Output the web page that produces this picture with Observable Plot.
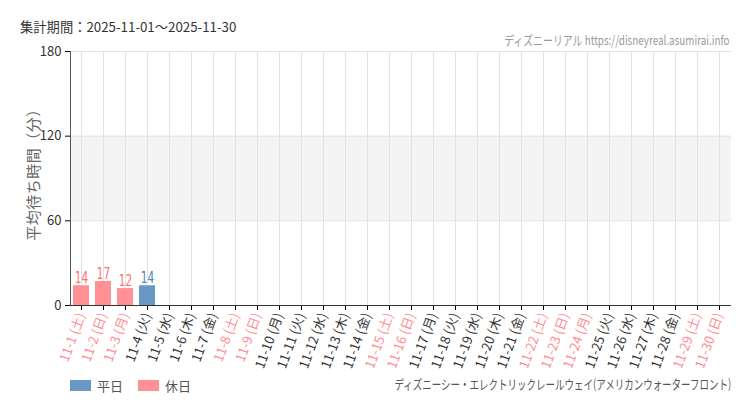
<!DOCTYPE html>
<html><head><meta charset="utf-8">
<script src="https://cdn.jsdelivr.net/npm/d3@7"></script>
<script src="https://cdn.jsdelivr.net/npm/@observablehq/plot@0.6"></script>
<style>
body{margin:0;background:#fff;font-family:"Noto Sans CJK JP","Noto Sans",sans-serif;}
#wrap{position:relative;width:750px;height:410px;overflow:hidden;}
#period{position:absolute;left:20px;top:17px;font-size:13.3px;color:#333;}
#site{position:absolute;right:20px;top:30px;font-size:13px;color:#999;white-space:nowrap;transform:scaleX(0.76);transform-origin:right center;}
#chart{position:absolute;left:0;top:45px;}
#chart svg{overflow:visible;}
#ylab{position:absolute;left:32px;top:171px;font-size:15px;letter-spacing:0.5px;color:#666;white-space:nowrap;transform:translate(-50%,-50%) rotate(-90deg);}
#legend{position:absolute;left:70px;top:376px;font-size:13px;color:#555;display:flex;align-items:center;}
.sw{display:inline-block;width:21px;height:11px;margin-right:6px;}
#caption{position:absolute;right:19px;top:374px;font-size:13px;color:#555;white-space:nowrap;transform:scaleX(0.73);transform-origin:right center;}
</style></head>
<body><div id="wrap">
<div id="period">集計期間：2025-11-01〜2025-11-30</div>
<div id="site">ディズニーリアル https://disneyreal.asumirai.info</div>
<div id="chart"></div>
<div id="ylab">平均待ち時間（分）</div>
<div id="legend"><span class="sw" style="background:#6a98c4"></span>平日<span style="width:15px"></span><span class="sw" style="background:#ff9095"></span>休日</div>
<div id="caption">ディズニーシー・エレクトリックレールウェイ(アメリカンウォーターフロント)</div>
</div>
<script>
const days = ["11-1","11-2","11-3","11-4","11-5","11-6","11-7","11-8","11-9","11-10","11-11","11-12","11-13","11-14","11-15","11-16","11-17","11-18","11-19","11-20","11-21","11-22","11-23","11-24","11-25","11-26","11-27","11-28","11-29","11-30"];
const weekdays = ["土","日","月","火","水","木","金","土","日","月","火","水","木","金","土","日","月","火","水","木","金","土","日","月","火","水","木","金","土","日"];
const holidayFlags = [1,1,1,0,0,0,0,1,1,0,0,0,0,0,1,1,0,0,0,0,0,1,1,1,0,0,0,0,1,1];
const waits = [14,17,12,14,null,null,null,null,null,null,null,null,null,null,null,null,null,null,null,null,null,null,null,null,null,null,null,null,null,null];
const yTicks = [0,60,120,180];

const C = {wdBar:"#6a98c4", hdBar:"#ff9095", wdLab:"#4f84ba", hdLab:"#ff6f76", wdTick:"#333", hdTick:"#ff8c92"};
const data = days.map((d,i)=>({day:d, wd:weekdays[i], hol:!!holidayFlags[i], v:waits[i]}));
const byDay = new Map(data.map(d=>[d.day,d]));
const bars = data.filter(d=>d.v!=null);

const chart = Plot.plot({
  width:750, height:320,
  marginLeft:70, marginRight:19, marginTop:6, marginBottom:60,
  style:{fontFamily:'"Noto Sans CJK JP","Noto Sans",sans-serif', background:"transparent", overflow:"visible"},
  x:{domain:days, paddingInner:0.27, paddingOuter:0, align:0.5},
  y:{domain:[0,180]},
  marks:[
    Plot.rectY([{a:60,b:120}], {y1:"a", y2:"b", fill:"#f4f4f4"}),
    Plot.gridX(days, {stroke:"#e3e3e3", strokeOpacity:1}),
    Plot.gridY([60,120,180], {stroke:"#e3e3e3", strokeOpacity:1}),
    Plot.barY(bars, {x:"day", y:"v", fill:d=>d.hol?C.hdBar:C.wdBar}),
    Plot.text(bars, {x:"day", y:"v", text:d=>String(d.v), dy:-8, fill:d=>d.hol?C.hdLab:C.wdLab,
      fontSize:16, fontFamily:'"DejaVu Sans",sans-serif'}),
    Plot.axisY({ticks:yTicks, tickSize:5, fontSize:13, fill:"#333", label:null}),
    Plot.axisX({ticks:days, tickSize:5, tickPadding:3, tickRotate:-70, fontSize:13, label:null,
      tickFormat:d=>`${d} (${byDay.get(d).wd})`,
      fill:d=>byDay.get(d).hol?C.hdTick:C.wdTick}),
    Plot.ruleY([0], {stroke:"#333"}),
    Plot.ruleX([0], {x:()=>days[0], dx:-11, stroke:"#555"})
  ]
});
// condense bar value labels horizontally
const k = 0.66;
d3.select(chart).selectAll("g[aria-label='text'] text").each(function(){
  const t = d3.select(this);
  const tr = t.attr("transform") || "";
  t.attr("transform", tr + ` scale(${k},1)`);
  if (t.attr("x") != null) t.attr("x", (+t.attr("x"))/k);
});
document.getElementById("chart").appendChild(chart);
</script>
</body></html>
